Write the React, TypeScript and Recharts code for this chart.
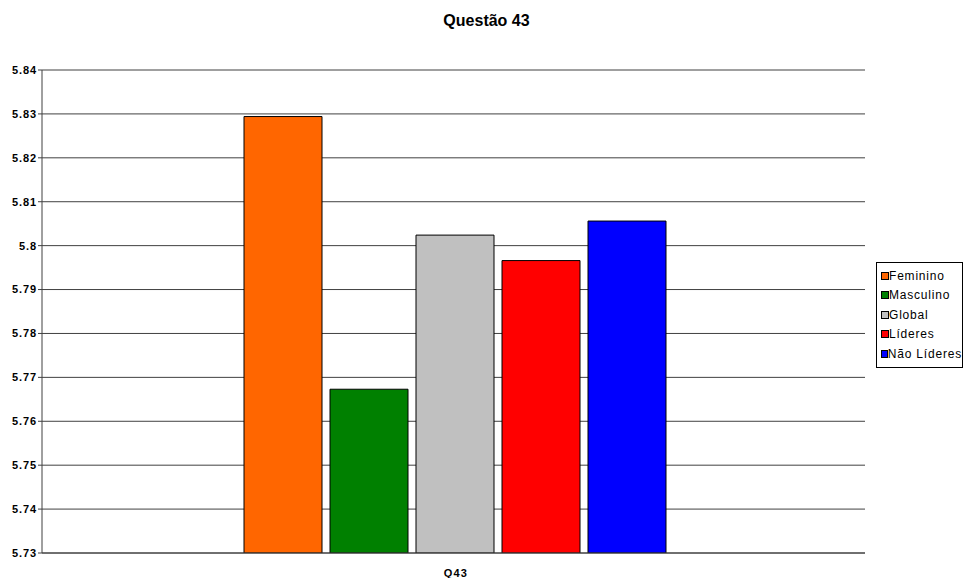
import { Bar, BarChart, CartesianGrid, Legend, XAxis, YAxis } from "recharts";

// values
const categories = ["Q43"];
const seriesNames = ["Feminino", "Masculino", "Global", "Líderes", "Não Líderes"];
const seriesValues = [5.8294, 5.7673, 5.8024, 5.7966, 5.8056];
const seriesColors = ["#FF6600", "#008000", "#C0C0C0", "#FF0000", "#0000FF"];
const yTicks = [5.73, 5.74, 5.75, 5.76, 5.77, 5.78, 5.79, 5.8, 5.81, 5.82, 5.83, 5.84];

const data = categories.map((name) => {
  const row: Record<string, string | number> = { name };
  seriesNames.forEach((s, i) => {
    row[s] = seriesValues[i];
  });
  return row;
});

const FONT = "'Liberation Sans', Arial, Helvetica, sans-serif";

function LegendBox() {
  return (
    <div
      style={{
        border: "1px solid #000",
        background: "#fff",
        padding: "3px 0 3px 4px",
        fontFamily: FONT,
        fontSize: 12,
        letterSpacing: 0.8,
        color: "#000",
        boxSizing: "border-box",
        width: 87,
      }}
    >
      {seriesNames.map((s, i) => (
        <div key={s} style={{ display: "flex", alignItems: "center", height: 19.5 }}>
          <span
            style={{
              display: "inline-block",
              width: 6,
              height: 6,
              background: seriesColors[i],
              border: "1px solid #000",
              marginRight: 0,
            }}
          />
          <span style={{ whiteSpace: "nowrap" }}>{s}</span>
        </div>
      ))}
    </div>
  );
}

export default function App() {
  return (
    <div style={{ position: "absolute", left: 0, top: 0, width: 967, height: 578, background: "#fff" }}>
      <div
        style={{
          position: "absolute",
          left: 0,
          width: 973,
          top: 12,
          textAlign: "center",
          fontFamily: FONT,
          fontWeight: "bold",
          fontSize: 16,
          lineHeight: "18px",
        }}
      >
        Questão 43
      </div>
      <BarChart
        width={967}
        height={578}
        data={data}
        margin={{ top: 70, right: 102, left: 0, bottom: 5 }}
        barCategoryGap={197}
        barGap={8}
      >
        <CartesianGrid vertical={false} stroke="#404040" />
        <XAxis
          dataKey="name"
          height={20}
          padding={{ left: 5, right: 0 }}
          axisLine={{ stroke: "#404040" }}
          tickLine={false}
          tickMargin={10}
          tick={{ fontSize: 11, fontWeight: "bold", fill: "#000", fontFamily: FONT, letterSpacing: 1.2 }}
        />
        <YAxis
          width={42}
          domain={[5.73, 5.84]}
          ticks={yTicks}
          interval={0}
          allowDataOverflow
          axisLine={{ stroke: "#404040" }}
          tickLine={{ stroke: "#404040" }}
          tickSize={4}
          tickMargin={1}
          tick={{ fontSize: 11, fontWeight: "bold", fill: "#000", fontFamily: FONT, letterSpacing: 0.9 }}
        />
        <YAxis
          yAxisId="right"
          orientation="right"
          width={0}
          domain={[5.73, 5.84]}
          tick={false}
          tickLine={false}
          axisLine={{ stroke: "#808080" }}
        />
        <Legend
          layout="vertical"
          align="center"
          verticalAlign="middle"
          wrapperStyle={{ left: 876, top: 262, width: 87 }}
          content={() => <LegendBox />}
        />
        {seriesNames.map((s, i) => (
          <Bar
            key={s}
            dataKey={s}
            fill={seriesColors[i]}
            stroke="#000"
            strokeWidth={1}
            isAnimationActive={false}
          />
        ))}
      </BarChart>
    </div>
  );
}
